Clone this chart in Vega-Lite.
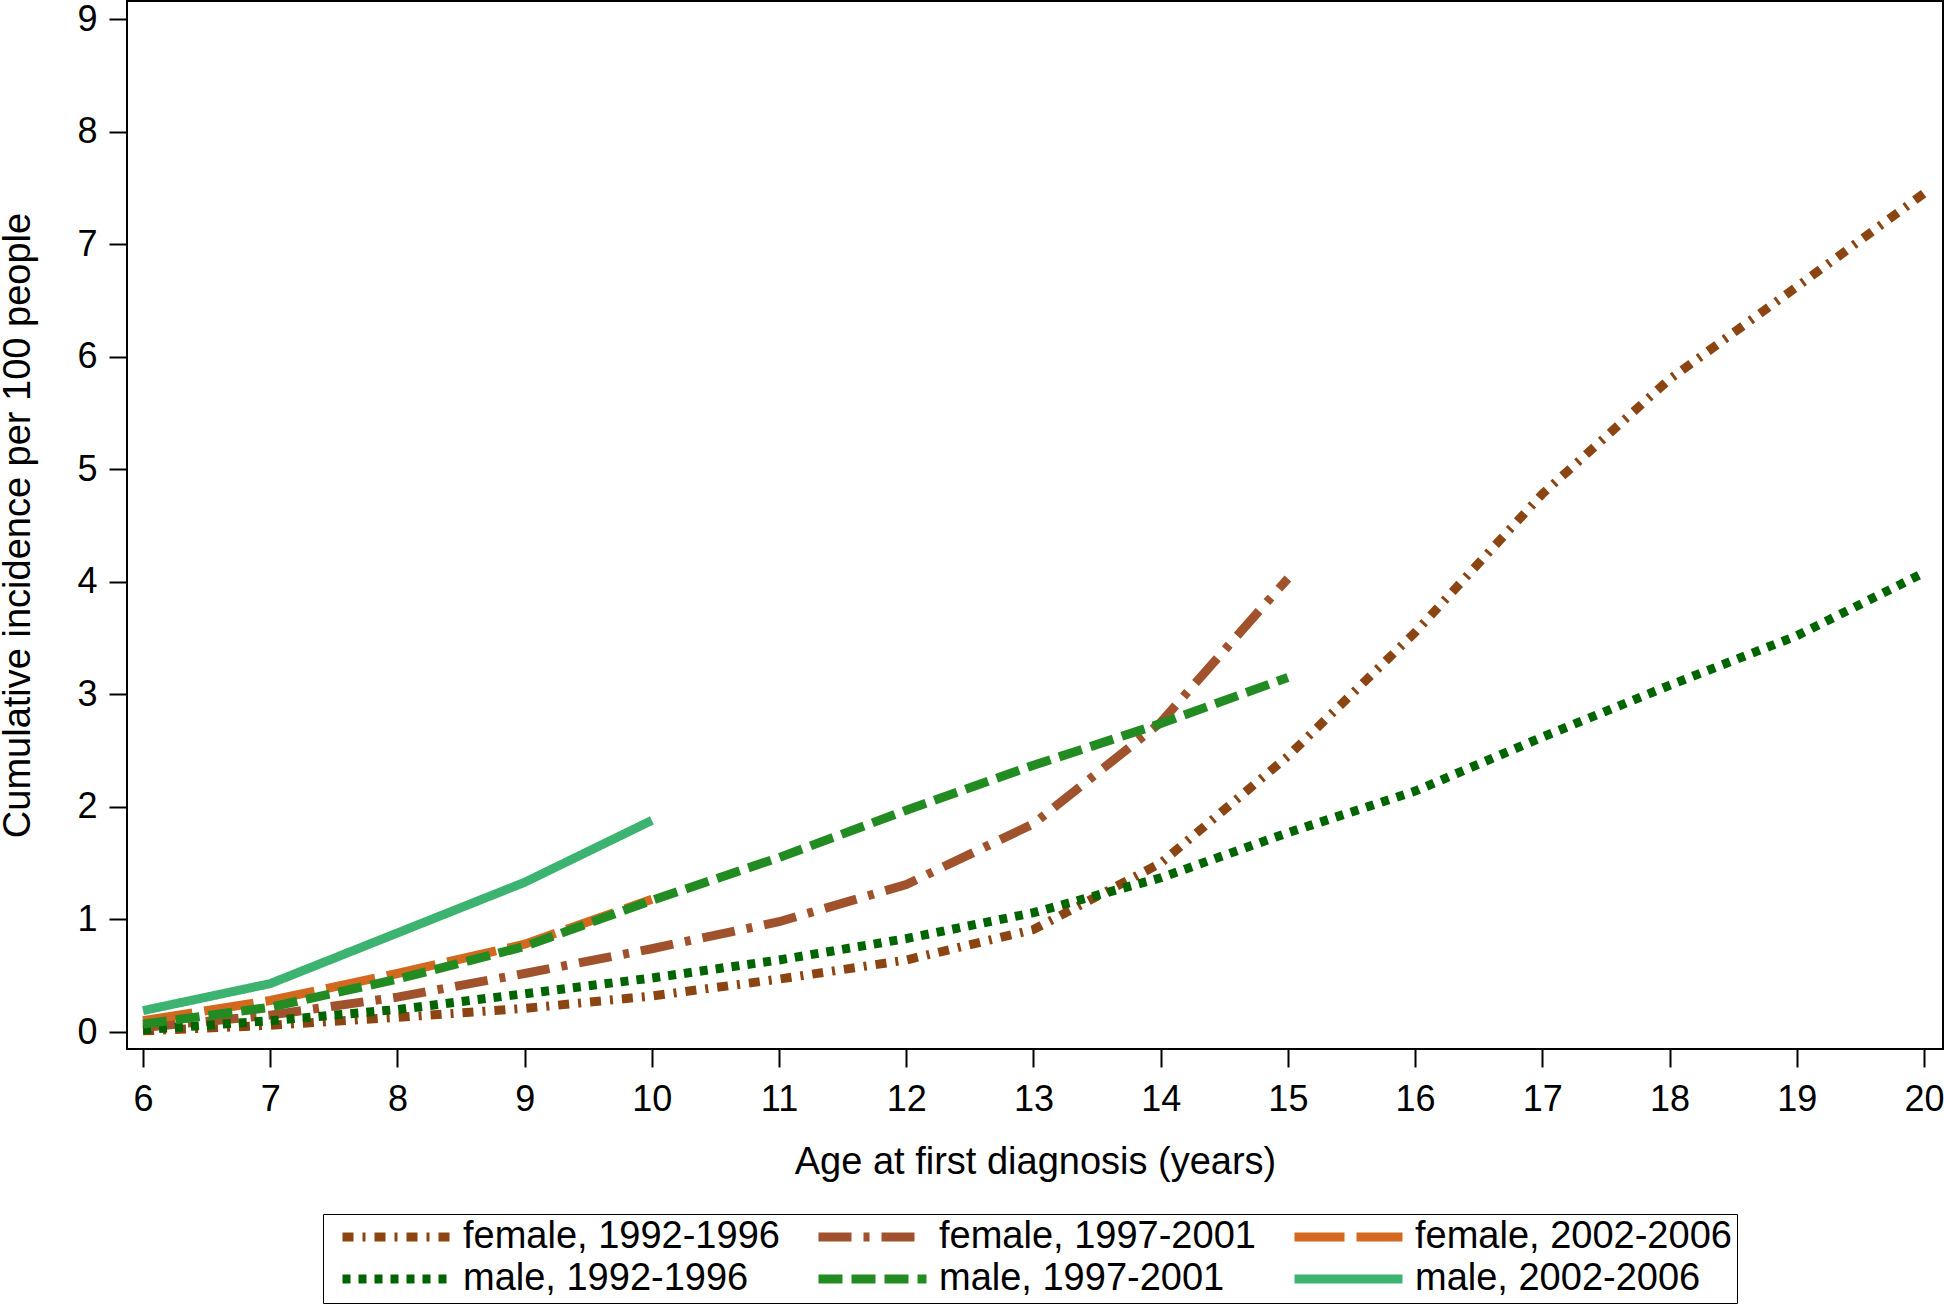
{
  "$schema": "https://vega.github.io/schema/vega-lite/v6.json",
  "width": 1816,
  "height": 1048,
  "autosize": {"type": "none"},
  "padding": {"left": 127, "top": 1, "right": 1, "bottom": 258},
  "background": "white",
  "config": {
    "view": {"stroke": "#000", "strokeWidth": 2},
    "font": "Liberation Sans",
    "axis": {
      "domain": false,
      "grid": false,
      "tickColor": "#000",
      "tickWidth": 2,
      "tickSize": 18,
      "labelColor": "#000",
      "labelFontSize": 36,
      "labelFlush": false,
      "labelOverlap": false,
      "titleColor": "#000",
      "titleFontSize": 38,
      "titleFontWeight": "normal"
    }
  },
  "datasets": {
    "rows": [
      {"group": "female, 1992-1996", "age": 6, "ci": 0.01},
      {"group": "female, 1992-1996", "age": 7, "ci": 0.06},
      {"group": "female, 1992-1996", "age": 8, "ci": 0.13},
      {"group": "female, 1992-1996", "age": 9, "ci": 0.21},
      {"group": "female, 1992-1996", "age": 10, "ci": 0.32},
      {"group": "female, 1992-1996", "age": 11, "ci": 0.47},
      {"group": "female, 1992-1996", "age": 12, "ci": 0.64},
      {"group": "female, 1992-1996", "age": 13, "ci": 0.91},
      {"group": "female, 1992-1996", "age": 14, "ci": 1.5},
      {"group": "female, 1992-1996", "age": 15, "ci": 2.45},
      {"group": "female, 1992-1996", "age": 16, "ci": 3.55},
      {"group": "female, 1992-1996", "age": 17, "ci": 4.78},
      {"group": "female, 1992-1996", "age": 18, "ci": 5.8},
      {"group": "female, 1992-1996", "age": 19, "ci": 6.62},
      {"group": "female, 1992-1996", "age": 20, "ci": 7.45},
      {"group": "female, 1997-2001", "age": 6, "ci": 0.04},
      {"group": "female, 1997-2001", "age": 7, "ci": 0.15},
      {"group": "female, 1997-2001", "age": 8, "ci": 0.31},
      {"group": "female, 1997-2001", "age": 9, "ci": 0.52},
      {"group": "female, 1997-2001", "age": 10, "ci": 0.74},
      {"group": "female, 1997-2001", "age": 11, "ci": 0.98},
      {"group": "female, 1997-2001", "age": 12, "ci": 1.31},
      {"group": "female, 1997-2001", "age": 13, "ci": 1.85},
      {"group": "female, 1997-2001", "age": 14, "ci": 2.75},
      {"group": "female, 1997-2001", "age": 15, "ci": 4.03},
      {"group": "female, 2002-2006", "age": 6, "ci": 0.1},
      {"group": "female, 2002-2006", "age": 7, "ci": 0.28},
      {"group": "female, 2002-2006", "age": 8, "ci": 0.52},
      {"group": "female, 2002-2006", "age": 9, "ci": 0.78},
      {"group": "female, 2002-2006", "age": 10, "ci": 1.18},
      {"group": "male, 1992-1996", "age": 6, "ci": 0.02},
      {"group": "male, 1992-1996", "age": 7, "ci": 0.1},
      {"group": "male, 1992-1996", "age": 8, "ci": 0.2},
      {"group": "male, 1992-1996", "age": 9, "ci": 0.34},
      {"group": "male, 1992-1996", "age": 10, "ci": 0.48},
      {"group": "male, 1992-1996", "age": 11, "ci": 0.64},
      {"group": "male, 1992-1996", "age": 12, "ci": 0.83},
      {"group": "male, 1992-1996", "age": 13, "ci": 1.06},
      {"group": "male, 1992-1996", "age": 14, "ci": 1.37},
      {"group": "male, 1992-1996", "age": 15, "ci": 1.77},
      {"group": "male, 1992-1996", "age": 16, "ci": 2.14},
      {"group": "male, 1992-1996", "age": 17, "ci": 2.62},
      {"group": "male, 1992-1996", "age": 18, "ci": 3.08},
      {"group": "male, 1992-1996", "age": 19, "ci": 3.52},
      {"group": "male, 1992-1996", "age": 20, "ci": 4.08},
      {"group": "male, 1997-2001", "age": 6, "ci": 0.07},
      {"group": "male, 1997-2001", "age": 7, "ci": 0.22},
      {"group": "male, 1997-2001", "age": 8, "ci": 0.47},
      {"group": "male, 1997-2001", "age": 9, "ci": 0.76},
      {"group": "male, 1997-2001", "age": 10, "ci": 1.17},
      {"group": "male, 1997-2001", "age": 11, "ci": 1.55},
      {"group": "male, 1997-2001", "age": 12, "ci": 1.97},
      {"group": "male, 1997-2001", "age": 13, "ci": 2.37},
      {"group": "male, 1997-2001", "age": 14, "ci": 2.74},
      {"group": "male, 1997-2001", "age": 15, "ci": 3.15},
      {"group": "male, 2002-2006", "age": 6, "ci": 0.19},
      {"group": "male, 2002-2006", "age": 7, "ci": 0.43},
      {"group": "male, 2002-2006", "age": 8, "ci": 0.88},
      {"group": "male, 2002-2006", "age": 9, "ci": 1.33},
      {"group": "male, 2002-2006", "age": 10, "ci": 1.88}
    ]
  },
  "data": {"name": "rows"},
  "mark": {"type": "line", "strokeWidth": 9, "strokeCap": "butt", "clip": true},
  "encoding": {
    "x": {
      "field": "age",
      "type": "quantitative",
      "scale": {"domain": [5.874, 20.15], "nice": false, "zero": false},
      "axis": {
        "values": [6, 7, 8, 9, 10, 11, 12, 13, 14, 15, 16, 17, 18, 19, 20],
        "title": "Age at first diagnosis (years)",
        "labelPadding": 15,
        "titlePadding": 26
      }
    },
    "y": {
      "field": "ci",
      "type": "quantitative",
      "scale": {"domain": [-0.151, 9.16], "nice": false, "zero": false},
      "axis": {
        "values": [0, 1, 2, 3, 4, 5, 6, 7, 8, 9],
        "title": "Cumulative incidence per 100 people",
        "labelPadding": 12,
        "titlePadding": 39
      }
    },
    "color": {
      "field": "group",
      "type": "nominal",
      "scale": {
        "domain": ["female, 1992-1996", "female, 1997-2001", "female, 2002-2006", "male, 1992-1996", "male, 1997-2001", "male, 2002-2006"],
        "range": ["#8B4513", "#A0522D", "#D2691E", "#006400", "#228B22", "#3CB371"]
      },
      "legend": {
        "title": null,
        "orient": "none",
        "direction": "horizontal",
        "legendX": 196,
        "legendY": 1213,
        "columns": 3,
        "strokeColor": "#000",
        "padding": 5,
        "symbolType": "stroke",
        "symbolSize": 11664,
        "symbolStrokeWidth": 9,
        "symbolOffset": 10,
        "clipHeight": 36,
        "labelFontSize": 38,
        "labelColor": "#000",
        "labelOffset": 8,
        "labelLimit": 0,
        "rowPadding": 4,
        "columnPadding": 24
      }
    },
    "strokeDash": {
      "field": "group",
      "type": "nominal",
      "scale": {
        "domain": ["female, 1992-1996", "female, 1997-2001", "female, 2002-2006", "male, 1992-1996", "male, 1997-2001", "male, 2002-2006"],
        "range": [[11, 9, 3, 9], [33, 12, 6, 12], [50, 12], [8, 8], [24, 9], [1, 0]]
      },
      "legend": {
        "title": null,
        "orient": "none",
        "direction": "horizontal",
        "legendX": 196,
        "legendY": 1213,
        "columns": 3,
        "strokeColor": "#000",
        "padding": 5,
        "symbolType": "stroke",
        "symbolSize": 11664,
        "symbolStrokeWidth": 9,
        "symbolOffset": 10,
        "clipHeight": 36,
        "labelFontSize": 38,
        "labelColor": "#000",
        "labelOffset": 8,
        "labelLimit": 0,
        "rowPadding": 4,
        "columnPadding": 24
      }
    }
  }
}
